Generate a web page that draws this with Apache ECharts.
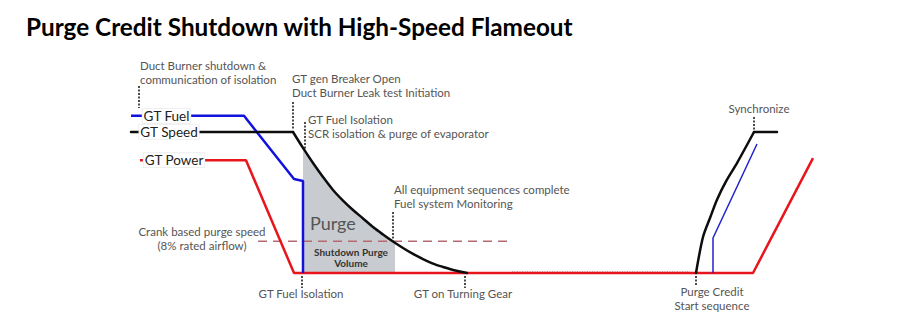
<!DOCTYPE html>
<html>
<head>
<meta charset="utf-8">
<script src="https://cdn.jsdelivr.net/npm/echarts@6/dist/echarts.min.js"></script>
<style>html,body{margin:0;padding:0;background:#fff}#c{width:922px;height:334px}</style>
</head>
<body>
<div id="c"></div>
<script>
// ---- data (x: time units, y: % of rated level) ----
const chartTitle = 'Purge Credit Shutdown with High-Speed Flameout';
const seriesNames = ['GT Fuel', 'GT Speed', 'GT Power'];
const fuelShutdown = [[13.1,111.5],[24.4,111.5],[29.4,66.7],[30.3,65.2],[30.3,0]];
const speedShutdown = [[13.1,100],[29.3,100],[30.3,88.7],[31.3,78.0],[32.3,68.1],[33.3,58.9],[34.3,51.4],[35.3,44.7],[36.3,38.7],[37.3,32.6],[38.3,27.3],[39.3,22.3],[40.3,17.7],[41.3,13.5],[42.3,9.9],[43.3,6.7],[44.3,4.3],[45.3,2.1],[46.7,0]];
const powerTrace = [[14.0,80],[24.6,80],[29.4,0],[75.3,0],[81.3,81.5]];
const speedRestart = [[69.6,0],[70.3,25.5],[71.0,39],[71.7,52],[72.6,65],[73.7,78],[75.4,100],[77.7,100]];
const fuelRestart = [[71.3,0],[71.3,24.8],[75.7,91.5]];
const purgeVolume = [[30.3,88.7],[31.3,78.0],[32.3,68.1],[33.3,58.9],[34.3,51.4],[35.3,44.7],[36.3,38.7],[37.3,32.6],[38.3,27.3],[39.3,22.3],[39.5,21.4]];
const crankPurgeLevel = 22.5;
const crankPurgeSpan = [25.8, 50.8];
const turningGearTrace = [[51.2,0.8],[69.0,0.8]];
const eventTimes = [13.9, 29.3, 30.5, 39.3, 30.2, 46.5, 75.4, 69.6];
const eventLabels = [
  'Duct Burner shutdown &\ncommunication of isolation',
  'GT gen Breaker Open\nDuct Burner Leak test Initiation',
  'GT Fuel Isolation\nSCR isolation & purge of evaporator',
  'All equipment sequences complete\nFuel system Monitoring',
  'GT Fuel Isolation',
  'GT on Turning Gear',
  'Synchronize',
  'Purge Credit\nStart sequence'
];
const crankLabel = 'Crank based purge speed\n(8% rated airflow)';
const purgeLabel = 'Purge';
const purgeVolumeLabel = 'Shutdown Purge\nVolume';

// ---- layout (not data) ----
const eventTickSpan = [[132.6,117.0],[121.3,101.4],[107.1,87.2],[43.3,23.4],[-2.1,-10.6],[-2.1,-10.6],[110.6,101.4],[-2.1,-9.2]];
const eventTextAnchor = [
  {dx:0.1, v:151.8, align:'left'},
  {dx:-0.1, v:142.6, align:'left'},
  {dx:0.3, v:113.5, align:'left'},
  {dx:0.1, v:64.5, align:'left'},
  {dx:-0.1, v:-9.9, align:'center'},
  {dx:-0.2, v:-9.9, align:'center'},
  {dx:0.5, v:121.3, align:'center'},
  {dx:1.6, v:-7.8, align:'center'}
];
const lineLabelX = [16.65, 16.9, 17.4];

const BLUE = '#1212dc', RED = '#e8161c', BLACK = '#0d0d0d';
const annFont = '11.5px Lato';
const annColor = '#555';

const chart = echarts.init(document.getElementById('c'), null, {renderer: 'svg'});

const markData = eventTimes.map((t, i) => [
  {coord: [t, eventTickSpan[i][0]]},
  {coord: [t, eventTickSpan[i][1]]}
]);

const SM = 0.3;
const option = {
  animation: false,
  backgroundColor: '#fff',
  title: {
    text: chartTitle, left: 21, top: 9,
    textStyle: {fontFamily: 'Lato', fontWeight: 'bold', fontSize: 24.3, color: '#000'}
  },
  grid: {left: 0, right: 0, top: 0, bottom: 0},
  xAxis: {type: 'value', min: 0, max: 92.2, show: false},
  yAxis: {type: 'value', min: -43.26, max: 193.62, show: false},
  series: [
    {type: 'line', data: purgeVolume, smooth: SM, symbol: 'none',
     lineStyle: {width: 0}, areaStyle: {color: '#c8cbd0', opacity: 1, origin: 0}, z: 1, silent: true},
    {type: 'line', data: crankPurgeSpan.map(t => [t, crankPurgeLevel]), symbol: 'none',
     lineStyle: {color: '#b56a72', width: 1.5, type: [9, 6]}, z: 2},
    {type: 'line', data: turningGearTrace, symbol: 'none',
     lineStyle: {color: '#888', width: 1, type: [1, 1.5]}, z: 2},
    {name: seriesNames[2], type: 'line', data: powerTrace, symbol: 'none',
     lineStyle: {color: RED, width: 2.5}, z: 3},
    {name: seriesNames[0], type: 'line', data: fuelShutdown, symbol: 'none',
     lineStyle: {color: BLUE, width: 2.5}, z: 4},
    {name: seriesNames[1], type: 'line', data: speedShutdown.slice(0, 2), symbol: 'none',
     lineStyle: {color: BLACK, width: 2.5, cap: 'round'}, z: 5},
    {type: 'line', data: speedShutdown.slice(1), smooth: SM, symbol: 'none',
     lineStyle: {color: BLACK, width: 2.5, cap: 'round'}, z: 5},
    {type: 'line', data: speedRestart.slice(0, 7), smooth: SM, symbol: 'none',
     lineStyle: {color: BLACK, width: 2.5, cap: 'round'}, z: 5},
    {type: 'line', data: speedRestart.slice(6), symbol: 'none',
     lineStyle: {color: BLACK, width: 2.5, cap: 'round'}, z: 5},
    {type: 'line', data: fuelRestart, symbol: 'none',
     lineStyle: {color: '#2222cc', width: 1.5}, z: 4},
    {type: 'line', data: [], symbol: 'none',
     markLine: {silent: true, symbol: ['none', 'none'], label: {show: false},
       lineStyle: {color: '#111', width: 1.5, type: [2, 1.5]}, data: markData}, z: 6}
  ]
};
chart.setOption(option);

const P = (x, v) => chart.convertToPixel({gridIndex: 0}, [x, v]);
const graphics = [];
eventLabels.forEach((txt, i) => {
  const a = eventTextAnchor[i];
  const p = P(eventTimes[i] + a.dx, a.v);
  graphics.push({type: 'text', x: p[0], y: p[1], z: 10,
    style: {text: txt, font: annFont, fill: annColor, align: a.align, verticalAlign: 'top', lineHeight: 14}});
});
{
  const p = P(20.2, 34.0);
  graphics.push({type: 'text', x: p[0], y: p[1], z: 10,
    style: {text: crankLabel, font: annFont, fill: annColor, align: 'center', verticalAlign: 'top', lineHeight: 13.5}});
}
{
  const p = P(31.0, 35.5);
  graphics.push({type: 'text', x: p[0], y: p[1], z: 10,
    style: {text: purgeLabel, font: '18px Lato', fill: '#555', align: 'left', verticalAlign: 'middle'}});
}
{
  const p = P(35.1, 18.8);
  graphics.push({type: 'text', x: p[0], y: p[1], z: 10,
    style: {text: purgeVolumeLabel, font: 'bold 10px Lato', fill: '#333', align: 'center', verticalAlign: 'top', lineHeight: 11}});
}
const levels = [fuelShutdown[0][1], speedShutdown[0][1], powerTrace[0][1]];
seriesNames.forEach((n, i) => {
  const p = P(lineLabelX[i], levels[i]);
  graphics.push({type: 'text', x: p[0], y: p[1], z: 10,
    style: {text: n, font: '13.5px Lato', fill: '#222', align: 'center', verticalAlign: 'middle',
      backgroundColor: '#fff', borderColor: '#e4e4e4', borderWidth: 0.6, padding: [0, 1]}});
});
chart.setOption({graphic: graphics});
</script>
</body>
</html>
